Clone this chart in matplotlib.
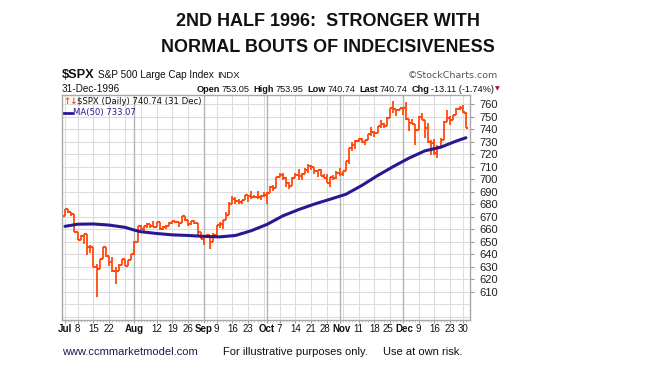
import matplotlib
matplotlib.use("Agg")
import matplotlib.pyplot as plt
from matplotlib.lines import Line2D
import matplotlib.transforms as mtransforms
import numpy as np
import pandas as pd

# ---------------- data ----------------
holidays = ["1996-07-04", "1996-09-02", "1996-11-28", "1996-12-25"]

opens = [670.63, 675.88, 673.61, 672.40, 657.44, 651.65, 654.75, 656.06, 645.67, 646.19,
         629.80, 628.37, 635.83, 645.48, 638.73, 633.77, 626.87, 626.65, 631.17, 635.90,
         630.91, 635.26, 639.95, 650.02, 662.49, 660.23, 662.38, 664.16, 662.59, 662.10,
         665.77, 660.20, 662.05, 662.28, 665.21, 666.58, 665.69, 665.07, 670.68, 667.03,
         663.88, 666.40, 664.81, 657.40, 651.99, 654.72, 655.61, 649.44, 655.68, 663.76,
         663.81, 667.28, 671.15, 680.54, 683.98, 682.94, 681.47, 683.00, 687.03, 686.48,
         685.61, 685.83, 685.86, 686.19, 687.31, 689.08, 694.01, 692.78, 701.46, 703.34,
         700.64, 696.74, 694.61, 700.66, 703.54, 702.57, 704.41, 706.99, 710.82, 709.85,
         706.57, 707.27, 702.29, 700.92, 697.26, 701.50, 700.90, 705.27, 703.77, 706.73,
         714.14, 724.59, 727.65, 730.82, 731.87, 729.56, 731.13, 735.88, 737.62, 737.02,
         742.16, 743.85, 742.75, 748.73, 757.03, 755.96, 755.00, 757.02, 756.56, 748.28,
         745.10, 744.38, 739.60, 749.76, 747.54, 740.73, 729.30, 728.64, 720.98, 726.04,
         731.54, 745.76, 748.87, 746.92, 751.03, 755.82, 756.79, 753.05]
highs = [675.88, 675.88, 673.64, 672.40, 657.65, 655.68, 656.27, 656.06, 647.15, 646.19,
         631.98, 636.61, 645.59, 645.48, 638.73, 637.70, 629.92, 632.12, 636.20, 635.90,
         635.26, 640.51, 650.66, 662.49, 663.64, 662.69, 664.61, 664.16, 666.35, 665.77,
         665.77, 662.89, 663.07, 665.74, 666.58, 666.73, 665.69, 670.68, 670.68, 667.03,
         666.40, 667.26, 664.81, 657.40, 655.14, 656.20, 655.61, 657.10, 663.76, 665.56,
         667.75, 673.48, 681.39, 686.48, 685.70, 683.99, 683.29, 687.07, 687.03, 690.88,
         687.11, 690.15, 687.10, 690.11, 689.48, 694.28, 695.23, 701.74, 705.23, 705.28,
         701.94, 697.36, 701.66, 705.00, 708.09, 705.04, 708.72, 711.81, 711.61, 709.85,
         707.32, 708.25, 704.11, 704.45, 701.69, 702.99, 706.61, 708.99, 706.84, 714.56,
         724.60, 729.49, 731.39, 732.60, 733.05, 731.48, 735.99, 741.92, 738.67, 742.47,
         746.99, 745.08, 749.41, 757.05, 762.12, 756.29, 757.02, 757.03, 761.75, 748.40,
         747.65, 744.38, 750.08, 752.75, 747.54, 744.46, 731.03, 732.40, 727.00, 732.76,
         746.06, 755.41, 750.40, 751.07, 757.07, 758.75, 759.33, 753.95]
lows = [670.63, 672.60, 670.21, 657.41, 651.13, 651.65, 648.39, 639.52, 640.66, 629.69,
        605.88, 628.37, 635.83, 637.52, 630.38, 625.65, 616.43, 626.65, 631.17, 630.91,
        630.91, 635.26, 639.49, 650.02, 659.17, 658.75, 660.67, 660.58, 661.43, 661.71,
        659.13, 659.45, 660.52, 662.28, 663.93, 664.63, 662.16, 665.07, 666.17, 662.75,
        663.06, 664.53, 655.36, 651.89, 647.42, 652.89, 643.97, 649.44, 655.68, 661.13,
        660.49, 667.28, 671.15, 680.54, 680.13, 680.50, 679.82, 683.00, 681.76, 684.00,
        684.77, 683.77, 683.73, 686.03, 680.35, 689.08, 690.91, 692.78, 701.46, 699.15,
        693.61, 692.28, 694.61, 700.66, 699.01, 699.57, 704.41, 704.56, 706.96, 704.40,
        701.85, 702.11, 700.53, 697.24, 693.97, 699.58, 700.35, 702.16, 702.72, 706.73,
        712.11, 722.25, 724.27, 729.93, 728.99, 727.58, 731.13, 734.45, 734.00, 737.02,
        741.15, 740.93, 742.75, 748.73, 752.83, 750.66, 755.00, 751.49, 747.58, 738.46,
        743.93, 726.89, 739.60, 747.07, 732.75, 728.86, 719.64, 719.56, 716.69, 726.04,
        731.54, 745.76, 743.28, 746.92, 751.02, 754.83, 752.86, 740.74]
closes = [675.88, 673.61, 672.40, 657.44, 651.65, 654.75, 656.06, 645.67, 646.19, 629.80,
          628.37, 635.83, 645.48, 638.73, 633.77, 626.87, 626.65, 631.17, 635.90, 630.91,
          635.26, 639.95, 650.02, 662.49, 660.23, 662.38, 664.16, 662.59, 662.10, 665.77,
          660.20, 662.05, 662.28, 665.21, 666.58, 665.69, 665.07, 670.68, 667.03, 663.88,
          666.40, 664.81, 657.40, 651.99, 654.72, 655.61, 649.44, 655.68, 663.76, 663.81,
          667.28, 671.15, 680.54, 683.98, 682.94, 681.47, 683.00, 687.03, 686.48, 685.61,
          685.83, 685.86, 686.19, 687.31, 689.08, 694.01, 692.78, 701.46, 703.34, 700.64,
          696.74, 694.61, 700.66, 703.54, 702.57, 704.41, 706.99, 710.82, 709.85, 706.57,
          707.27, 702.29, 700.92, 697.26, 701.50, 700.90, 705.27, 703.77, 706.73, 714.14,
          724.59, 727.65, 730.82, 731.87, 729.56, 731.13, 735.88, 737.62, 737.02, 742.16,
          743.85, 742.75, 748.73, 757.03, 755.96, 755.00, 757.02, 756.56, 748.28, 745.10,
          744.38, 739.60, 749.76, 747.54, 740.73, 729.30, 728.64, 720.98, 726.04, 731.54,
          745.76, 748.87, 746.92, 751.03, 755.82, 756.79, 753.85, 740.74]

ma_dates = ["1996-07-01", "1996-07-08", "1996-07-15", "1996-07-22", "1996-07-29",
            "1996-08-01", "1996-08-05", "1996-08-12", "1996-08-19", "1996-08-26",
            "1996-09-03", "1996-09-10", "1996-09-17", "1996-09-24", "1996-10-01",
            "1996-10-08", "1996-10-15", "1996-10-22", "1996-10-29", "1996-11-05",
            "1996-11-12", "1996-11-19", "1996-11-26", "1996-12-04", "1996-12-11",
            "1996-12-18", "1996-12-26", "1996-12-31"]
ma_values = [662.3, 664.0, 664.2, 663.3, 661.5, 659.3, 658.0, 656.6, 655.5, 655.0,
             654.3, 653.89, 654.99, 658.81, 663.85, 670.66, 675.67, 680.10, 683.96, 687.93,
             694.91, 702.82, 710.07, 716.84, 722.59, 725.48, 730.48, 733.07]

tick_dates = ["1996-07-01", "1996-07-08", "1996-07-15", "1996-07-22", "1996-08-01",
              "1996-08-12", "1996-08-19", "1996-08-26", "1996-09-03", "1996-09-09",
              "1996-09-16", "1996-09-23", "1996-10-01", "1996-10-07", "1996-10-14",
              "1996-10-21", "1996-10-28", "1996-11-01", "1996-11-11", "1996-11-18",
              "1996-11-25", "1996-12-02", "1996-12-09", "1996-12-16", "1996-12-23",
              "1996-12-30"]
tick_labels = ["Jul", "8", "15", "22", "Aug", "12", "19", "26", "Sep", "9", "16", "23",
               "Oct", "7", "14", "21", "28", "Nov", "11", "18", "25", "Dec", "9", "16",
               "23", "30"]
y_ticks = [610, 620, 630, 640, 650, 660, 670, 680, 690, 700, 710, 720, 730, 740, 750, 760]

# ---------------- figure ----------------
W, H = 656, 371
fig = plt.figure(figsize=(W / 100, H / 100), dpi=100)
fig.patch.set_facecolor("white")


def fx(px):
    return px / W


def fy(py):
    return 1 - py / H


L, R, T, B = 62, 470, 95, 320
ax = fig.add_axes([fx(L), fy(B), (R - L) / W, (B - T) / H])

dates = pd.bdate_range("1996-07-01", "1996-12-31")
dates = dates[~dates.isin(pd.to_datetime(holidays))]
pos = {d: i for i, d in enumerate(dates)}
x = np.arange(len(dates))

BAR = "#ff4a0f"
MA = "#2a1890"
GRID = "#dcdcdc"
MGRID = "#b4b4b4"

# grid
for v in range(590, 770, 10):
    ax.axhline(v, color=GRID, lw=0.8, zorder=0)
for d in dates:
    if d.weekday() == 0:
        ax.axvline(pos[d], color=GRID, lw=0.8, zorder=0)
month_starts = [i for i in range(len(dates)) if i == 0 or dates[i].month != dates[i - 1].month]
for i in month_starts[1:]:
    ax.axvline(i, color=MGRID, lw=1.0, zorder=0)

# OHLC bars
ax.vlines(x, lows, highs, color=BAR, lw=1.3, zorder=3)
ax.hlines(opens, x - 0.62, x, color=BAR, lw=1.5, zorder=3)
ax.hlines(closes, x, x + 0.62, color=BAR, lw=1.5, zorder=3)

# MA line
ma_x = [pos[pd.Timestamp(d)] for d in ma_dates]
ax.plot(ma_x, ma_values, color=MA, lw=2.2, zorder=4, solid_capstyle="round")

ax.set_xlim(-0.95, len(dates) + 0.3)
ax.set_ylim(587.5, 767.2)

ax.yaxis.tick_right()
ax.set_yticks(y_ticks)
ax.set_yticklabels([str(v) for v in y_ticks], fontsize=8, family="Liberation Sans", color="#222222")
ax.tick_params(axis="y", length=3, width=0.8, color="#999999", pad=4)

# x ticks: marks from the axis, labels drawn as texts so crowded pairs can be nudged
tpos = [pos[pd.Timestamp(d)] for d in tick_dates]
ax.set_xticks(tpos)
ax.set_xticklabels([])
ax.set_xticks(x, minor=True)
ax.tick_params(axis="x", which="major", length=2, color="#999999")
ax.tick_params(axis="x", which="minor", length=1.5, color="#bbbbbb")
blend = mtransforms.blended_transform_factory(ax.transData, ax.transAxes)
for k, (p, lab) in enumerate(zip(tpos, tick_labels)):
    is_month = lab.isalpha()
    dx = 0.0
    if is_month and k > 0 and p - tpos[k - 1] <= 4 and len(tick_labels[k - 1]) > 1:
        dx = 1.4
    if (not is_month) and k + 1 < len(tpos) and tick_labels[k + 1].isalpha() \
            and tpos[k + 1] - p <= 4 and len(lab) > 1:
        dx = -1.8
    tr = blend + mtransforms.ScaledTranslation(dx / 100, -4 / 100, fig.dpi_scale_trans)
    ax.text(p, 0, lab, transform=tr, ha="center", va="top", fontsize=7,
            fontweight="bold" if is_month else "normal",
            family="Liberation Sans", color="#111111")

for s in ax.spines.values():
    s.set_color("#a8a8a8")
    s.set_linewidth(1.0)

# ---------------- texts ----------------
fig.text(0.5, fy(21), "2ND HALF 1996:  STRONGER WITH", ha="center", va="center",
         fontsize=13, fontweight="bold", family="Liberation Sans", color="#111111")
fig.text(0.5, fy(47), "NORMAL BOUTS OF INDECISIVENESS", ha="center", va="center",
         fontsize=13, fontweight="bold", family="Liberation Sans", color="#111111")

r = fig.canvas.get_renderer()


def chain(parts, x0, y, right=False):
    items = []
    xx = 0
    for s, kw, gap in parts:
        t = fig.text(0, fy(y), s, ha="left", va="center", **kw)
        w = t.get_window_extent(r).width
        items.append((t, xx))
        xx += w + gap
    start = x0 - xx if right else x0
    for t, off in items:
        t.set_x(fx(start + off))


arial = dict(family="Liberation Sans", color="#111111")
chain([("$SPX", dict(fontsize=9.2, fontweight="bold", **arial), 3),
       ("S&P 500 Large Cap Index", dict(fontsize=7.2, **arial), 4),
       ("INDX", dict(fontsize=6.8, **arial), 0)], 62, 75)
fig.text(fx(498), fy(76), "\u00a9StockCharts.com", ha="right", va="center",
         fontsize=6.8, family="DejaVu Sans", color="#555555")

fig.text(fx(62), fy(89), "31-Dec-1996", ha="left", va="center", fontsize=7.2, **arial)
bold8 = dict(fontsize=6.6, fontweight="bold", **arial)
reg8 = dict(fontsize=6.6, **arial)
chain([("Open", bold8, 1.5), ("753.05", reg8, 4),
       ("High", bold8, 1.5), ("753.95", reg8, 4),
       ("Low", bold8, 1.5), ("740.74", reg8, 4),
       ("Last", bold8, 1.5), ("740.74", reg8, 4),
       ("Chg", bold8, 1.5), ("-13.11 (-1.74%)", reg8, 1.5),
       ("\u25bc", dict(fontsize=4.5, family="DejaVu Sans", color="#a0173c"), 0)], 500, 89,
      right=True)

# legend inside the plot
fig.text(fx(63), fy(102), "\u2191\u2193", ha="left", va="center", fontsize=6.2,
         fontweight="bold", family="DejaVu Sans", color=BAR)
fig.text(fx(77), fy(102), "$SPX (Daily) 740.74 (31 Dec)", ha="left", va="center",
         fontsize=6.1, family="DejaVu Sans", color="#111111")
fig.add_artist(Line2D([fx(64), fx(72)], [fy(113), fy(113)], color=MA, lw=2.0))
fig.text(fx(73), fy(113), "MA(50) 733.07", ha="left", va="center",
         fontsize=6.1, family="DejaVu Sans", color=MA)

# footer
fy_f = 352
fig.text(fx(62), fy(fy_f), "www.ccmmarketmodel.com", ha="left", va="center",
         fontsize=8, family="Liberation Sans", color="#1c1c50")
fig.text(fx(223), fy(fy_f), "For illustrative purposes only.", ha="left", va="center",
         fontsize=8, family="Liberation Sans", color="#111111")
fig.text(fx(383), fy(fy_f), "Use at own risk.", ha="left", va="center",
         fontsize=8, family="Liberation Sans", color="#111111")

fig.savefig("out.png", dpi=100, facecolor="white")
